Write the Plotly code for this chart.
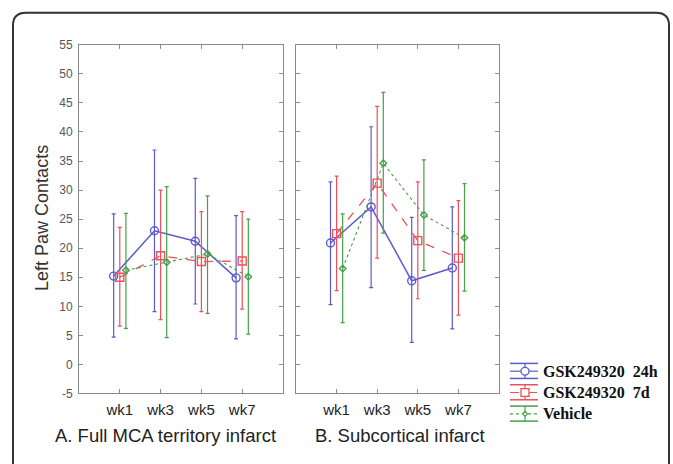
import plotly.graph_objects as go

W, H = 673, 464

weeks = ["wk1", "wk3", "wk5", "wk7"]
series_names = ["GSK249320\u00a0\u00a024h", "GSK249320\u00a0\u00a07d", "Vehicle"]

# Panel A: Full MCA territory infarct
a_24h = [15.2, 23.0, 21.2, 14.9]
a_24h_hi = [25.9, 36.9, 32.0, 25.6]
a_24h_lo = [4.7, 9.1, 10.4, 4.4]
a_7d = [15.0, 18.7, 17.7, 17.8]
a_7d_hi = [23.6, 30.0, 26.3, 26.3]
a_7d_lo = [6.6, 7.7, 9.1, 9.5]
a_veh = [16.2, 17.6, 19.0, 15.1]
a_veh_hi = [26.0, 30.6, 29.0, 25.0]
a_veh_lo = [6.2, 4.6, 8.8, 5.2]

# Panel B: Subcortical infarct
b_24h = [20.9, 27.1, 14.4, 16.6]
b_24h_hi = [31.4, 40.9, 25.3, 27.1]
b_24h_lo = [10.3, 13.2, 3.8, 6.1]
b_7d = [22.5, 31.2, 21.3, 18.3]
b_7d_hi = [32.4, 44.4, 31.4, 28.2]
b_7d_lo = [12.7, 18.3, 11.3, 8.5]
b_veh = [16.5, 34.6, 25.7, 21.8]
b_veh_hi = [25.9, 46.8, 35.2, 31.1]
b_veh_lo = [7.2, 22.6, 16.2, 12.6]

y_ticks = list(range(-5, 56, 5))
y_ticktext = [str(v) for v in y_ticks]

colors = ["#5a5ad0", "#ee5058", "#46a046"]
dashes = ["solid", "dash", "dot"]
symbols = ["circle-open", "square-open", "diamond-open"]
msizes = [8, 8, 5]
lwidths = [1.5, 1.3, 1.1]
offsets = [-0.15, 0.0, 0.15]

fig = go.Figure()

panels = [
    ("x", "y", [(a_24h, a_24h_hi, a_24h_lo), (a_7d, a_7d_hi, a_7d_lo), (a_veh, a_veh_hi, a_veh_lo)]),
    ("x2", "y2", [(b_24h, b_24h_hi, b_24h_lo), (b_7d, b_7d_hi, b_7d_lo), (b_veh, b_veh_hi, b_veh_lo)]),
]

for xa, ya, data in panels:
    for i, (m, hi, lo) in enumerate(data):
        xs = [k + 1 + offsets[i] for k in range(len(weeks))]
        fig.add_trace(go.Scatter(
            x=xs, y=m, xaxis=xa, yaxis=ya, mode="lines+markers",
            name=series_names[i], showlegend=False,
            line=dict(color=colors[i], dash=dashes[i], width=lwidths[i]),
            marker=dict(symbol=symbols[i], size=msizes[i], color=colors[i],
                        line=dict(color=colors[i], width=1.4)),
            error_y=dict(type="data", symmetric=False,
                         array=[h - v for h, v in zip(hi, m)],
                         arrayminus=[v - l for v, l in zip(m, lo)],
                         color=colors[i], thickness=1.2, width=2),
        ))

ytop = 1 - 39 / H
ybot = 1 - 398.5 / H
axis_common = dict(showgrid=False, zeroline=False, showline=True, linecolor="#8a8a8a",
                   linewidth=1, mirror="ticks", ticks="inside", ticklen=4,
                   tickcolor="#8a8a8a")

fig.update_layout(
    width=W, height=H, margin=dict(l=0, r=0, t=0, b=0),
    paper_bgcolor="white", plot_bgcolor="white",
    font=dict(family="Arial, Liberation Sans, sans-serif", color="#333"),
    xaxis=dict(domain=[79 / W, 283 / W], range=[0, 5], tickvals=[1, 2, 3, 4], ticktext=weeks,
               anchor="y", tickfont=dict(size=15, color="#222"), ticklabelstandoff=3,
               **axis_common),
    yaxis=dict(domain=[ybot, ytop], range=[-5, 55], tickvals=y_ticks, ticktext=y_ticktext,
               anchor="x", tickfont=dict(size=12, color="#555"), ticklabelstandoff=3,
               **axis_common),
    xaxis2=dict(domain=[296 / W, 499 / W], range=[0, 5], tickvals=[1, 2, 3, 4], ticktext=weeks,
                anchor="y2", tickfont=dict(size=15, color="#222"), ticklabelstandoff=3,
                **axis_common),
    yaxis2=dict(domain=[ybot, ytop], range=[-5, 55], tickvals=y_ticks, anchor="x2",
                showticklabels=False, **axis_common),
)

# y-axis title and panel subtitles
fig.add_annotation(text="Left Paw Contacts", x=42 / W, y=1 - 217.5 / H, xref="paper", yref="paper",
                   textangle=-90, showarrow=False, font=dict(size=18, color="#333"),
                   xanchor="center", yanchor="middle")
fig.add_annotation(text="A. Full MCA territory infarct", x=165.5 / W, y=1 - 442 / H,
                   xref="paper", yref="paper", showarrow=False,
                   font=dict(size=18.5, color="#222"), xanchor="center", yanchor="middle")
fig.add_annotation(text="B. Subcortical infarct", x=400 / W, y=1 - 442 / H,
                   xref="paper", yref="paper", showarrow=False,
                   font=dict(size=18.5, color="#222"), xanchor="center", yanchor="middle")

# custom legend with error-bar glyphs
leg_rows = [375.5, 397.5, 419.5]
gx0, gx1, gxc = 510, 538, 525
for i, yc in enumerate(leg_rows):
    c = colors[i]
    for yy in (yc - 8, yc + 7.5):
        fig.add_shape(type="line", xref="paper", yref="paper",
                      x0=gx0 / W, x1=gx1 / W, y0=1 - yy / H, y1=1 - yy / H,
                      line=dict(color=c, width=1.5))
    fig.add_shape(type="line", xref="paper", yref="paper",
                  x0=gxc / W, x1=gxc / W, y0=1 - (yc - 8) / H, y1=1 - (yc + 7.5) / H,
                  line=dict(color=c, width=1.2))
    fig.add_shape(type="line", xref="paper", yref="paper",
                  x0=gx0 / W, x1=gx1 / W, y0=1 - yc / H, y1=1 - yc / H,
                  line=dict(color=c, width=1.2, dash=dashes[i]))
    r = [4, 4, 2.5][i]
    if i == 1:
        fig.add_shape(type="rect", xref="paper", yref="paper",
                      x0=(gxc - r) / W, x1=(gxc + r) / W, y0=1 - (yc - r) / H, y1=1 - (yc + r) / H,
                      line=dict(color=c, width=1.3), fillcolor="white")
    elif i == 0:
        fig.add_shape(type="circle", xref="paper", yref="paper",
                      x0=(gxc - r) / W, x1=(gxc + r) / W, y0=1 - (yc - r) / H, y1=1 - (yc + r) / H,
                      line=dict(color=c, width=1.3), fillcolor="white")
    else:
        p = (f"M {gxc / W},{1 - (yc - r) / H} L {(gxc + r) / W},{1 - yc / H} "
             f"L {gxc / W},{1 - (yc + r) / H} L {(gxc - r) / W},{1 - yc / H} Z")
        fig.add_shape(type="path", xref="paper", yref="paper", path=p,
                      line=dict(color=c, width=1.2), fillcolor="white")
    fig.add_annotation(text="<b>" + series_names[i] + "</b>", x=541 / W, y=1 - yc / H,
                       xref="paper", yref="paper", showarrow=False, xanchor="left",
                       yanchor="middle",
                       font=dict(family="Liberation Serif, Times New Roman, serif",
                                 size=16, color="#111"))

# rounded outer frame
def px(x, y):
    return f"{x / W},{1 - y / H}"

frame = (f"M {px(13, 475)} L {px(13, 19)} Q {px(13, 6)} {px(26, 6)} "
         f"L {px(656, 6)} Q {px(669, 6)} {px(669, 19)} L {px(669, 475)}")
fig.add_shape(type="path", xref="paper", yref="paper", path=frame,
              line=dict(color="#333", width=2))

fig.write_html("out.html", config={"displayModeBar": False},
               post_script=("document.documentElement.style.margin='0px';"
                            "document.documentElement.style.overflow='hidden';"
                            "document.body.style.margin='0px';"
                            "document.body.style.overflow='hidden';"))
